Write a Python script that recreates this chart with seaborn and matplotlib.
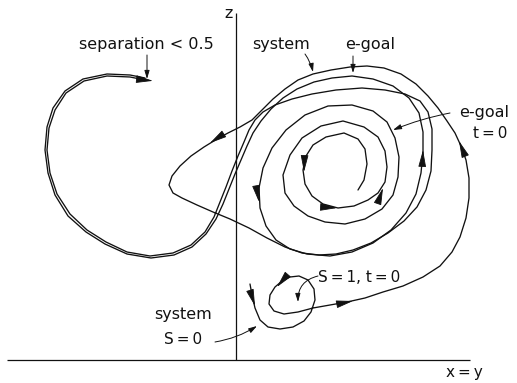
import numpy as np
import pandas as pd
import matplotlib
matplotlib.use("Agg")
import matplotlib.pyplot as plt
import seaborn as sns

# Projected trajectories in the (x = y, z) plane.
# System trajectory: starts at S = 0, loops, winds round the right lobe,
# crosses to the left lobe and ends where the separation drops below 0.5.
system_x = [14, 16, 19, 24, 32, 44, 57, 68, 75, 79, 78, 72, 63, 54, 46, 39, 34, 33, 38, 48,
            62, 77, 94, 111, 129, 147, 167, 187, 204, 216, 224, 230, 233, 233, 230, 225, 219,
            211, 202, 192, 180, 165, 148, 131, 114, 95, 77, 62, 49, 37, 26, 16, 4, -8, -19,
            -32, -45, -56, -64, -67, -63, -54, -39, -23, -6, 13, 31, 49, 66, 83, 100, 117,
            135, 152, 168, 181, 190, 195, 196, 196, 192, 184, 169, 149, 126, 100, 76, 56, 39,
            27, 19, 13, 8, 2, -4, -10, -16, -22, -31, -45, -63, -86, -109, -130, -149, -166,
            -179, -186, -189, -187, -181, -170, -152, -129, -106, -91]
system_z = [76, 65, 52, 40, 33, 31, 33, 39, 48, 60, 71, 80, 84, 83, 79, 73, 65, 56, 49, 46,
            48, 52, 55, 58, 62, 68, 74, 83, 94, 108, 123, 142, 162, 182, 200, 214, 227,
            239, 252, 264, 276, 286, 292, 294, 293, 290, 286, 280, 271, 261, 250, 240, 233, 227, 221,
            213, 204, 194, 184, 175, 167, 162, 155, 148, 141, 132, 122, 113, 107, 105, 106, 110,
            117, 127, 139, 153, 170, 189, 210, 231, 248, 259, 266, 270, 272, 270, 266, 261, 255,
            248, 240, 230, 218, 204, 189, 173, 158, 143, 128, 115, 107, 104, 108, 118, 130, 146,
            166, 187, 210, 232, 250, 267, 279, 284, 283, 280]

# e-goal trajectory: spirals out of the right lobe, then follows the system
# into the left lobe.
egoal_x = [122, 128, 131, 129, 122, 108, 90, 77, 70, 67, 69, 76, 87, 102, 118, 132, 142, 149,
           151, 149, 142, 128, 107, 85, 66, 54, 47, 49, 58, 72, 89, 109, 129, 146, 157, 162,
           163, 159, 151, 137, 116, 92, 69, 50, 36, 27, 23, 24, 30, 40, 54, 71, 94, 116, 137,
           155, 170, 180, 185, 187, 187, 183, 173, 157, 137, 116, 96, 78, 61, 47, 35, 25, 17,
           11, 5, -1, -7, -13, -20, -30, -44, -62, -85, -109, -131, -150, -168, -181, -188,
           -191, -189, -183, -171, -153, -129, -106, -91]
egoal_z = [170, 180, 196, 211, 221, 227, 223, 215, 204, 190, 176, 164, 156, 152, 154, 160, 167, 178,
           193, 209, 223, 233, 239, 234, 222, 205, 185, 167, 154, 144, 138, 136, 141, 151, 165, 183,
           203, 222, 238, 249, 255, 254, 245, 230, 212, 192, 172, 152, 134, 120, 111, 106, 104, 108, 117,
           130, 147, 166, 187, 208, 228, 247, 262, 274, 281, 284, 282, 278, 271, 262, 251, 239, 227,
           214, 200, 186, 171, 156, 141, 126, 113, 105, 102, 106, 116, 128, 144, 165, 187,
           210, 233, 252, 269, 281, 286, 285, 282]

# Direction arrows placed on the trajectories (tip positions).
system_arrow_x = [19, 41, 117, 223, -26]
system_arrow_z = [54, 73, 59, 219, 217]
egoal_arrow_x = [68, 101, 147, 23, 187]
egoal_arrow_z = [188, 152, 172, 158, 210]

# Axis extents
z_axis_top = 347
x_axis_left, x_axis_right = -229, 234

fig = plt.figure(figsize=(5.17, 3.83), dpi=100)
ax = fig.add_axes([0, 0, 1, 1])
sns.set_theme(style="white")
plt.rcParams["font.family"] = ["DejaVu Sans"]
ax.set_xlim(-236, 281)
ax.set_ylim(-23, 360)
ax.axis("off")

ink = "#111111"
lw = 0.95

# coordinate axes
ax.plot([0, 0], [0, z_axis_top], color=ink, lw=0.9, solid_capstyle="butt")
ax.plot([x_axis_left, x_axis_right], [0, 0], color=ink, lw=0.9, solid_capstyle="butt")

for xs, zs in [(system_x, system_z), (egoal_x, egoal_z)]:
    df = pd.DataFrame({"x": xs, "z": zs})
    sns.lineplot(data=df, x="x", y="z", sort=False, estimator=None,
                 color=ink, lw=lw, ax=ax)
ax.set_xlabel("")
ax.set_ylabel("")


def head(tip, tail):
    ax.annotate("", xy=tip, xytext=tail,
                arrowprops=dict(arrowstyle="-|>,head_length=1.05,head_width=0.24",
                                mutation_scale=10, lw=0.6, color=ink,
                                shrinkA=0, shrinkB=0))


def arrows_on(xs, zs, tips_x, tips_z, length=12):
    pts = np.column_stack([xs, zs]).astype(float)
    n = len(pts)
    for tx, tz in zip(tips_x, tips_z):
        d = np.hypot(pts[:, 0] - tx, pts[:, 1] - tz)
        i = int(np.argmin(d))
        u = pts[min(i + 1, n - 1)] - pts[max(i - 1, 0)]
        u = u / np.hypot(*u)
        tip = np.array([tx, tz], dtype=float)
        head(tip, tip - length * u)


arrows_on(system_x, system_z, system_arrow_x, system_arrow_z)
arrows_on(egoal_x, egoal_z, egoal_arrow_x, egoal_arrow_z)

# arrow at the end of the system trajectory
end = np.array([system_x[-1], system_z[-1]], float)
prev = np.array([system_x[-3], system_z[-3]], float)
u = (end - prev) / np.hypot(*(end - prev))
head(end + 8 * u, end + 8 * u - 13 * u)

# labels
fs_word = 11.5
fs_eq = 11
ts = "\u2009"  # thin space around '=' signs


def pointer(xy, xytext, rad=0.0):
    ax.annotate("", xy=xy, xytext=xytext,
                arrowprops=dict(arrowstyle="-|>,head_length=0.5,head_width=0.15",
                                mutation_scale=10, lw=0.7, color=ink,
                                shrinkA=0, shrinkB=0,
                                connectionstyle=f"arc3,rad={rad}"))


ax.text(-90, 315, "separation < 0.5", ha="center", va="center", fontsize=fs_word, color=ink)
pointer((-89, 281), (-89, 305))

ax.text(45, 315, "system", ha="center", va="center", fontsize=fs_word, color=ink)
pointer((77, 288), (69, 306), rad=-0.1)

ax.text(134, 315, "e-goal", ha="center", va="center", fontsize=fs_word, color=ink)
pointer((117, 287), (117, 304))

ax.text(248, 247, "e-goal", ha="center", va="center", fontsize=fs_word, color=ink)
ax.text(254, 226, f"t{ts}={ts}0", ha="center", va="center", fontsize=fs_eq, color=ink)
pointer((157, 230), (214, 247), rad=0.05)

ax.text(82, 83, f"S{ts}={ts}1, t{ts}={ts}0", ha="left", va="center", fontsize=fs_eq, color=ink)
pointer((62, 58), (82, 84), rad=0.4)

ax.text(-53, 45, "system", ha="center", va="center", fontsize=fs_word, color=ink)
ax.text(-53, 21, f"S{ts}={ts}0", ha="center", va="center", fontsize=fs_eq, color=ink)
pointer((21, 34), (-21, 18), rad=0.1)

ax.text(-7, 347, "z", ha="center", va="center", fontsize=fs_word, color=ink)
ax.text(228, -13, f"x{ts}={ts}y", ha="center", va="center", fontsize=fs_eq, color=ink)

fig.savefig("out.png", dpi=100, facecolor="white")
